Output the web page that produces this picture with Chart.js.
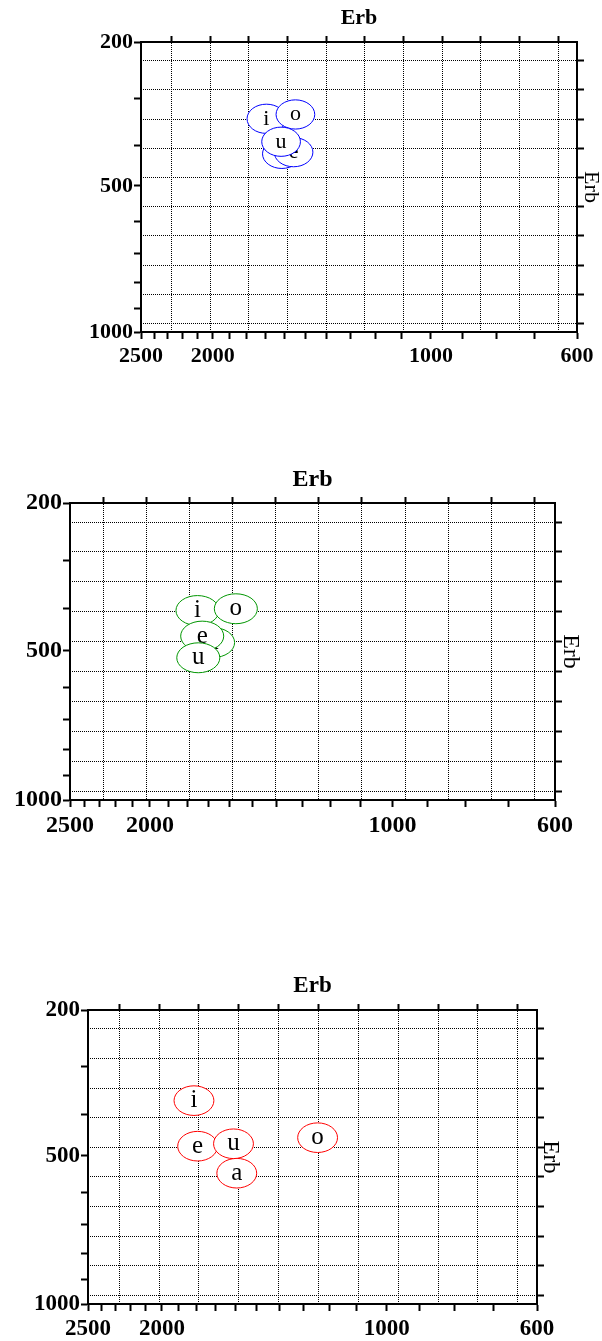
<!DOCTYPE html>
<html>
<head>
<meta charset="utf-8">
<script src="https://cdn.jsdelivr.net/npm/chart.js@4.4.1/dist/chart.umd.min.js"></script>
<style>
    html, body { margin: 0; padding: 0; background: #fff; }
    #wrap { position: relative; width: 602px; height: 1341px; }
    canvas { position: absolute; left: 0; }
</style>
</head>
<body>
<div id="wrap">
    <canvas id="chart1" width="602" height="400" style="top:0px"></canvas>
    <canvas id="chart2" width="602" height="400" style="top:460px"></canvas>
    <canvas id="chart3" width="602" height="376" style="top:965px"></canvas>
</div>
<script>
// Axis ranges and labelled ticks (Hz)
const f2Range = [2500, 600];
const f1Range = [200, 1000];
const f2TickLabels = [2500, 2000, 1000, 600];
const f1TickLabels = [200, 500, 1000];

// Vowel means, F2 / F1 in Hz
const vowels1 = ['i', 'a', 'e', 'o', 'u'];
const f2Hz1 = [1693, 1613, 1555, 1546, 1617];
const f1Hz1 = [342, 420, 416, 333, 392];

const vowels2 = ['i', 'a', 'e', 'o', 'u'];
const f2Hz2 = [1751, 1676, 1728, 1572, 1747];
const f1Hz2 = [404, 480, 464, 400, 519];

const vowels3 = ['i', 'a', 'e', 'o', 'u'];
const f2Hz3 = [1816, 1595, 1796, 1244, 1611];
const f1Hz3 = [369, 546, 475, 454, 469];

// Hz -> Erb rate
const erb = f => 11.17 * Math.log((f + 312) / (f + 14680)) + 43;

const serif = "'Liberation Serif', 'Times New Roman', serif";
Chart.defaults.font.family = serif;
Chart.defaults.color = '#000';

// ellipse (one Erb across) with the vowel symbol in it
const vowelEllipses = {
    id: 'vowelEllipses',
    afterDatasetsDraw(chart, args, opts) {
        const ctx = chart.ctx;
        const xs = chart.scales.x, ys = chart.scales.y;
        chart.data.datasets.forEach(ds => {
            ds.data.forEach((p, i) => {
                const cx = xs.getPixelForValue(p.x);
                const cy = ys.getPixelForValue(p.y);
                const rx = Math.abs(xs.getPixelForValue(p.x + opts.radius) - cx);
                const ry = Math.abs(ys.getPixelForValue(p.y + opts.radius) - cy);
                ctx.save();
                ctx.beginPath();
                ctx.ellipse(cx, cy, rx, ry, 0, 0, Math.PI * 2);
                ctx.fillStyle = '#fff';
                ctx.fill();
                ctx.lineWidth = 1;
                ctx.strokeStyle = ds.borderColor;
                ctx.stroke();
                ctx.fillStyle = '#000';
                ctx.font = opts.fontSize + 'px ' + serif;
                ctx.textAlign = 'center';
                ctx.textBaseline = 'middle';
                ctx.fillText(ds.vowelLabels[i], cx, cy);
                ctx.restore();
            });
        });
    }
};

function hzSteps(a, b) {
    const out = [];
    for (let f = Math.min(a, b); f <= Math.max(a, b); f += 100) out.push(f);
    return out;
}
function erbSteps(a, b) {
    const out = [];
    for (let e = Math.ceil(erb(Math.min(a, b))); e <= erb(Math.max(a, b)); e++) out.push(e);
    return out;
}

function makePanel(id, vowels, f2Hz, f1Hz, color, box) {
    const ctx = document.getElementById(id).getContext('2d');
    const W = 602, H = box.height;
    const tickFont = { size: box.tickSize, weight: 'bold' };

    const points = f2Hz.map((f2, i) => ({ x: erb(f2), y: erb(f1Hz[i]) }));

    return new Chart(ctx, {
        type: 'scatter',
        data: {
            datasets: [{
                data: points,
                vowelLabels: vowels,
                borderColor: color,
                pointRadius: 0,
                showLine: false
            }]
        },
        options: {
            responsive: false,
            animation: false,
            devicePixelRatio: 1,
            layout: { padding: 0 },
            plugins: {
                legend: { display: false },
                tooltip: { enabled: false },
                vowelEllipses: { radius: 0.5, fontSize: box.labelSize }
            },
            scales: {
                x: {
                    type: 'linear',
                    position: 'bottom',
                    reverse: true,
                    min: erb(f2Range[1]),
                    max: erb(f2Range[0]),
                    afterBuildTicks: s => { s.ticks = hzSteps(f2Range[0], f2Range[1]).map(hz => ({ value: erb(hz), hz })); },
                    afterFit: s => { s.height = H - box.bottom; },
                    ticks: {
                        autoSkip: false, maxRotation: 0, minRotation: 0, padding: 4, font: tickFont,
                        callback: (v, i, t) => f2TickLabels.includes(t[i].hz) ? String(t[i].hz) : ''
                    },
                    grid: { drawOnChartArea: false, drawTicks: true, tickLength: 7, tickWidth: 2, tickColor: '#000' },
                    border: { display: true, color: '#000', width: 2 }
                },
                xTop: {
                    type: 'linear',
                    position: 'top',
                    reverse: true,
                    min: erb(f2Range[1]),
                    max: erb(f2Range[0]),
                    z: 1,
                    afterBuildTicks: s => { s.ticks = erbSteps(f2Range[0], f2Range[1]).map(v => ({ value: v })); },
                    afterFit: s => { s.height = box.top; },
                    ticks: { display: false },
                    grid: { drawOnChartArea: true, color: '#000', lineWidth: 1, drawTicks: true, tickLength: 6, tickWidth: 2, tickColor: '#000', tickBorderDash: [] },
                    border: { display: true, color: '#000', width: 2, dash: [1, 1] },
                    title: { display: true, text: 'Erb', font: { size: box.titleSize, weight: 'bold', lineHeight: 1 }, padding: { top: box.titlePad, bottom: 0 } }
                },
                y: {
                    type: 'linear',
                    position: 'left',
                    reverse: true,
                    min: erb(f1Range[0]),
                    max: erb(f1Range[1]),
                    afterBuildTicks: s => { s.ticks = hzSteps(f1Range[0], f1Range[1]).map(hz => ({ value: erb(hz), hz })); },
                    afterFit: s => { s.width = box.left; },
                    ticks: {
                        autoSkip: false, padding: 1, font: tickFont,
                        callback: (v, i, t) => f1TickLabels.includes(t[i].hz) ? String(t[i].hz) : ''
                    },
                    grid: { drawOnChartArea: false, drawTicks: true, tickLength: 7, tickWidth: 2, tickColor: '#000' },
                    border: { display: true, color: '#000', width: 2 }
                },
                yRight: {
                    type: 'linear',
                    position: 'right',
                    reverse: true,
                    min: erb(f1Range[0]),
                    max: erb(f1Range[1]),
                    z: 1,
                    afterBuildTicks: s => { s.ticks = erbSteps(f1Range[0], f1Range[1]).map(v => ({ value: v })); },
                    afterFit: s => { s.width = W - box.right; },
                    ticks: { display: false },
                    grid: { drawOnChartArea: true, color: '#000', lineWidth: 1, drawTicks: true, tickLength: 7, tickWidth: 2, tickColor: '#000', tickBorderDash: [] },
                    border: { display: true, color: '#000', width: 2, dash: [1, 1] },
                    title: { display: true, text: 'Erb', font: { size: box.titleSize, lineHeight: 1 }, padding: { top: box.rightTitlePad, bottom: 0 } }
                }
            }
        },
        plugins: [vowelEllipses]
    });
}

makePanel('chart1', vowels1, f2Hz1, f1Hz1, 'rgb(0,0,255)',
    { height: 400, left: 141, right: 577, top: 42, bottom: 332, titlePad: 7, rightTitlePad: 0, titleSize: 22, tickSize: 22, labelSize: 22 });
makePanel('chart2', vowels2, f2Hz2, f1Hz2, 'rgb(0,150,0)',
    { height: 400, left: 70, right: 555, top: 43, bottom: 340, titlePad: 8, rightTitlePad: 20, titleSize: 24, tickSize: 24, labelSize: 25 });
makePanel('chart3', vowels3, f2Hz3, f1Hz3, 'rgb(255,0,0)',
    { height: 376, left: 88, right: 537, top: 45, bottom: 339, titlePad: 10, rightTitlePad: 40, titleSize: 23, tickSize: 23, labelSize: 25 });
</script>
</body>
</html>
